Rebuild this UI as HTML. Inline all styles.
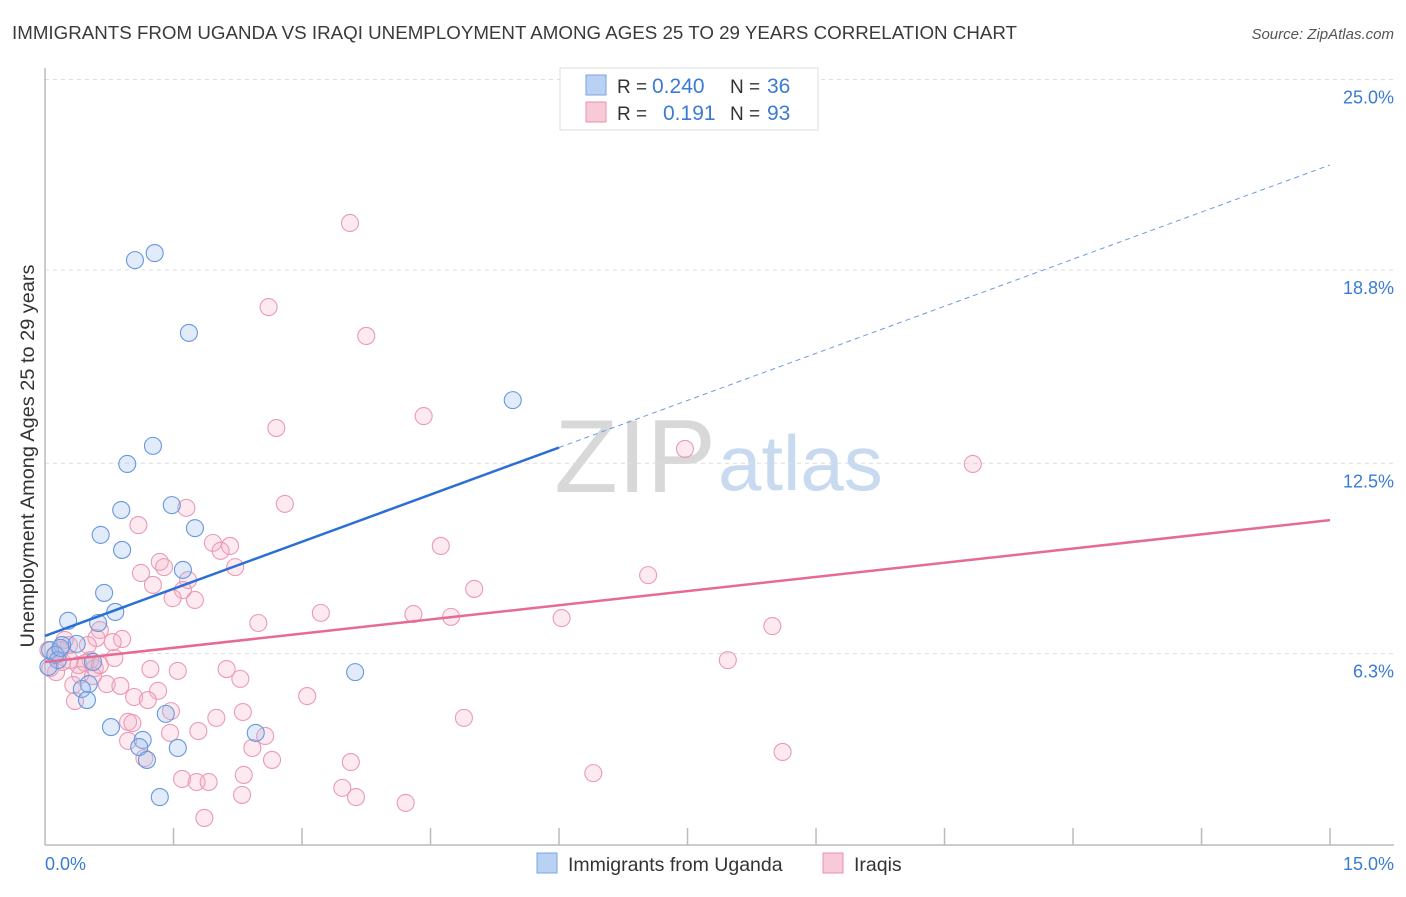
<!DOCTYPE html>
<html><head><meta charset="utf-8"><style>
body{margin:0;background:#fff;font-family:"Liberation Sans",sans-serif;}
svg text{font-family:"Liberation Sans",sans-serif;}
</style></head><body>
<svg id="chart" width="1406" height="892">
<text x="12" y="39" font-size="18" fill="#3a3a3a" textLength="1005" lengthAdjust="spacingAndGlyphs">IMMIGRANTS FROM UGANDA VS IRAQI UNEMPLOYMENT AMONG AGES 25 TO 29 YEARS CORRELATION CHART</text>
<text x="1394" y="39" font-size="15" fill="#555" font-style="italic" text-anchor="end">Source: ZipAtlas.com</text>
<text x="716" y="492" font-size="104" fill="#d8d8d8" font-family="Liberation Serif" text-anchor="end">ZIP</text>
<text x="718" y="490" font-size="78" fill="#c8daf0">atlas</text>
<g id="grid"></g><g id="axes"></g><g id="marks"></g><g id="lines"></g>
<text transform="translate(34,456) rotate(-90)" font-size="19.5" fill="#333" text-anchor="middle" textLength="383" lengthAdjust="spacingAndGlyphs">Unemployment Among Ages 25 to 29 years</text>
<text x="45" y="870" font-size="18" fill="#3a7bd5">0.0%</text>
<text x="1394" y="870" font-size="18" fill="#3a7bd5" text-anchor="end">15.0%</text>
<g>
<rect x="560" y="68" width="258" height="62" fill="#fff" stroke="#ddd"/>
<rect x="586" y="75" width="20" height="20" fill="#b9d1f3" stroke="#7aa5e0"/>
<text x="617" y="93" font-size="19" fill="#333">R =</text>
<text x="652" y="93" font-size="21" fill="#3a7bd5">0.240</text>
<text x="730" y="93" font-size="19" fill="#333">N =</text>
<text x="767" y="93" font-size="21" fill="#3a7bd5">36</text>
<rect x="586" y="102" width="20" height="20" fill="#f8c9d7" stroke="#ea90ad"/>
<text x="617" y="120" font-size="19" fill="#333">R =</text>
<text x="663" y="120" font-size="21" fill="#3a7bd5">0.191</text>
<text x="730" y="120" font-size="19" fill="#333">N =</text>
<text x="767" y="120" font-size="21" fill="#3a7bd5">93</text>
</g>
<g>
<rect x="537" y="853" width="20" height="20" fill="#b9d1f3" stroke="#7aa5e0"/>
<text x="568" y="871" font-size="19.5" fill="#333">Immigrants from Uganda</text>
<rect x="823" y="853" width="20" height="20" fill="#f8c9d7" stroke="#ea90ad"/>
<text x="854" y="871" font-size="19.5" fill="#333">Iraqis</text>
</g>
</svg>
<script>
const yTicks=[25.0,18.8,12.5,6.3];
const xTickVals=[1.5,3,4.5,6,7.5,9,10.5,12,13.5,15];
const blueX=[1.05,1.28,1.68,5.46,1.26,0.96,0.89,1.48,1.75,0.65,0.90,1.61,0.69,0.82,0.27,0.62,0.37,0.20,0.06,0.12,0.15,0.56,0.04,0.51,0.43,0.49,0.77,1.14,1.10,1.41,1.55,1.19,1.34,2.46,3.62,0.18];
const blueY=[19.67,19.90,17.30,15.11,13.62,13.03,11.53,11.69,10.94,10.72,10.23,9.58,8.83,8.21,7.92,7.85,7.17,7.13,6.97,6.81,6.64,6.58,6.42,5.86,5.70,5.34,4.46,4.04,3.81,4.89,3.78,3.39,2.18,4.27,6.25,7.04];
const pinkX=[3.56,2.61,3.75,4.42,2.70,7.47,10.83,2.80,1.65,1.09,1.96,2.16,2.05,4.62,1.34,1.39,2.22,1.12,7.04,1.26,1.67,5.01,1.61,1.75,1.49,3.22,4.30,4.74,6.03,2.49,8.49,0.64,0.60,0.90,0.79,0.50,0.28,0.18,0.04,0.81,0.53,0.47,0.39,0.58,0.13,0.06,1.23,1.55,2.12,7.97,0.41,0.56,2.28,0.33,0.72,0.88,1.04,1.32,3.06,1.20,0.35,2.31,2.00,4.89,0.97,1.02,1.47,1.79,1.46,2.57,2.42,0.97,1.16,2.65,3.57,8.61,2.32,1.60,1.77,1.91,3.47,2.30,3.63,6.40,4.21,1.86,0.12,0.20,0.64,0.29,0.23];
const pinkY=[20.88,18.14,17.20,14.59,14.20,13.52,13.03,11.73,11.60,11.04,10.46,10.36,10.20,10.36,9.84,9.67,9.67,9.48,9.41,9.09,9.25,8.96,8.92,8.60,8.66,8.18,8.14,8.05,8.01,7.85,7.75,7.62,7.36,7.33,7.23,7.13,7.13,6.97,6.97,6.71,6.64,6.55,6.48,6.38,6.25,6.38,6.35,6.29,6.35,6.64,6.16,6.12,6.03,5.83,5.86,5.80,5.44,5.64,5.47,5.34,5.31,4.95,4.76,4.76,4.63,4.59,4.98,4.33,4.27,4.17,3.78,4.01,3.45,3.39,3.32,3.65,2.90,2.77,2.67,2.67,2.48,2.25,2.18,2.96,1.99,1.50,6.81,6.58,6.48,6.64,7.30];
const blueTrend=[7.43,22.77];
const pinkTrend=[6.58,11.2];
const NS="http://www.w3.org/2000/svg";
const xs=v=>45+v*85.67;
const ys=v=>864-v*30.7;
function mk(t,a,p){const e=document.createElementNS(NS,t);for(const k in a)e.setAttribute(k,a[k]);p.appendChild(e);return e;}
const grid=document.getElementById('grid'),axes=document.getElementById('axes'),marks=document.getElementById('marks'),lines=document.getElementById('lines');
yTicks.forEach(t=>{
 const g=mk('line',{x1:45,x2:1394,y1:ys(t)-17,y2:ys(t)-17,stroke:'#ddd','stroke-dasharray':'4,4'},grid);
 
 
 const l=mk('text',{x:1394,y:ys(t)+7,'font-size':18,fill:'#3a7bd5','text-anchor':'end'},grid);
 l.textContent=t.toFixed(1)+'%';
 
 
});
const ya=mk('line',{x1:45,x2:45,y1:68,y2:845,stroke:'#bbb','stroke-width':1.5},axes);


const xa=mk('line',{x1:45,x2:1394,y1:845,y2:845,stroke:'#bbb','stroke-width':1.5},axes);


xTickVals.forEach(t=>{
 const k=mk('line',{x1:xs(t),x2:xs(t),y1:828,y2:845,stroke:'#bbb','stroke-width':1.5},axes);
 
 
});
pinkX.forEach((x,i)=>{
 const c=mk('circle',{cx:xs(x),cy:ys(pinkY[i]),r:8.5,fill:'rgba(244,170,195,0.25)',stroke:'#eb9ab5','stroke-width':1.1},marks);
 
 
});
blueX.forEach((x,i)=>{
 const c=mk('circle',{cx:xs(x),cy:ys(blueY[i]),r:8.5,fill:'rgba(160,190,235,0.3)',stroke:'#6598de','stroke-width':1.1},marks);
 
 
});
const bAt=v=>blueTrend[0]+(blueTrend[1]-blueTrend[0])*v/15;
const b1=mk('line',{x1:xs(0),y1:ys(bAt(0)),x2:xs(6),y2:ys(bAt(6)),stroke:'#2a6fd6','stroke-width':2.5},lines);


const b2=mk('line',{x1:xs(6),y1:ys(bAt(6)),x2:xs(15),y2:ys(bAt(15)),stroke:'#6d9be0','stroke-width':1,'stroke-dasharray':'5,4'},lines);


const p1=mk('line',{x1:xs(0),y1:ys(pinkTrend[0]),x2:xs(15),y2:ys(pinkTrend[1]),stroke:'#e56b94','stroke-width':2.5},lines);


</script>
</body></html>
